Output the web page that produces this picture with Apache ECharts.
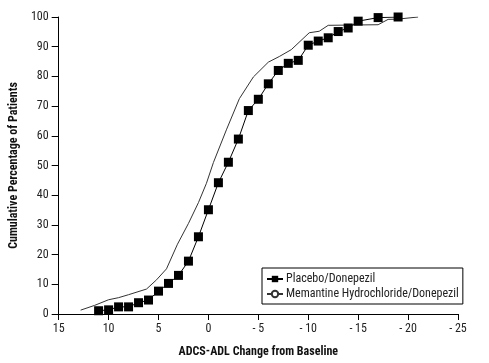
<!DOCTYPE html>
<html>
<head>
<meta charset="utf-8">
<script src="https://cdn.jsdelivr.net/npm/echarts@6/dist/echarts.min.js"></script>
<style>
html,body{margin:0;padding:0;background:#fff;}
#chart{width:489px;height:363px;}
</style>
</head>
<body>
<div id="chart"></div>
<script>
const seriesNames = ['Placebo/Donepezil', 'Memantine Hydrochloride/Donepezil'];
const placeboData = [
  [11,1.1],[10,1.4],[9,2.4],[8,2.4],[7,3.8],[6,4.7],[5,7.7],[4,10.3],[3,13],[2,17.8],
  [1,26],[0,35.1],[-1,44.2],[-2,51.1],[-3,58.9],[-4,68.5],[-5,72.3],[-6,77.5],[-7,82],
  [-8,84.4],[-9,85.4],[-10,90.5],[-11,91.9],[-12,93],[-13,95.1],[-14,96.3],[-15,98.6],
  [-17,99.8],[-19,100]
];
const memantineData = [
  [12.8,1.3],[11.4,2.9],[10,4.8],[9,5.5],[8,6.5],[6.2,8.4],[5.2,11.5],[4.2,15.2],
  [3.1,23.5],[2,30.5],[1,37.5],[0.2,44],[-0.5,51],[-1.8,62],[-3.1,72.5],[-4.5,79.8],
  [-6,84.8],[-7.1,86.7],[-8.3,89],[-10.1,94.7],[-11.1,95.2],[-12,97.2],[-17,97.4],
  [-18,99.2],[-19,99.3],[-21,100]
];
const xTicks = [15,10,5,0,-5,-10,-15,-20,-25];
const yTicks = [0,10,20,30,40,50,60,70,80,90,100];

const FONT = '"Roboto Condensed","Liberation Sans Narrow",sans-serif';
const chart = echarts.init(document.getElementById('chart'), null, {renderer:'canvas'});
chart.setOption({
  animation:false,
  backgroundColor:'#fff',
  textStyle:{fontFamily:FONT},
  grid:{left:54,right:31,top:17,bottom:47,containLabel:false},
  xAxis:{
    type:'value', inverse:true, min:xTicks[xTicks.length-1], max:xTicks[0], interval:5,
    name:'ADCS-ADL Change from Baseline', nameLocation:'middle', nameGap:32,
    nameTextStyle:{fontFamily:FONT,fontWeight:'bold',fontSize:12,color:'#111'},
    axisLine:{onZero:false,lineStyle:{color:'#000',width:1}},
    axisTick:{length:6,lineStyle:{color:'#000'}},
    axisLabel:{fontFamily:FONT,fontSize:12,color:'#222',margin:9,
      formatter:v=> v<0 ? '- '+Math.abs(v) : String(v)},
    splitLine:{show:false}
  },
  yAxis:{
    type:'value', min:yTicks[0], max:yTicks[yTicks.length-1], interval:10,
    name:'Cumulative Percentage of Patients', nameLocation:'middle', nameGap:31,
    nameTextStyle:{fontFamily:FONT,fontWeight:'bold',fontSize:12,color:'#111'},
    axisLine:{show:true,onZero:false,lineStyle:{color:'#000',width:1}},
    axisTick:{show:true,length:7,lineStyle:{color:'#000'}},
    axisLabel:{fontFamily:FONT,fontSize:12,color:'#222',margin:10},
    splitLine:{show:false}
  },
  legend:{
    left:262, top:268, orient:'vertical',
    backgroundColor:'#fff', borderColor:'#000', borderWidth:1,
    padding:[5,4,4,4], itemGap:3, itemWidth:16, itemHeight:8,
    textStyle:{fontFamily:FONT,fontSize:12,color:'#222',padding:[0,0,0,-2]},
    data:seriesNames
  },
  series:[
    {
      name:seriesNames[0], type:'line', data:placeboData,
      symbol:'rect', symbolSize:9, showSymbol:true,
      lineStyle:{color:'#000',width:1}, itemStyle:{color:'#000'}
    },
    {
      name:seriesNames[1], type:'line', data:memantineData,
      symbol:'emptyCircle', symbolSize:6, showSymbol:false,
      lineStyle:{color:'#333',width:1}, itemStyle:{color:'#333',borderColor:'#333'}
    }
  ]
});
</script>
</body>
</html>
